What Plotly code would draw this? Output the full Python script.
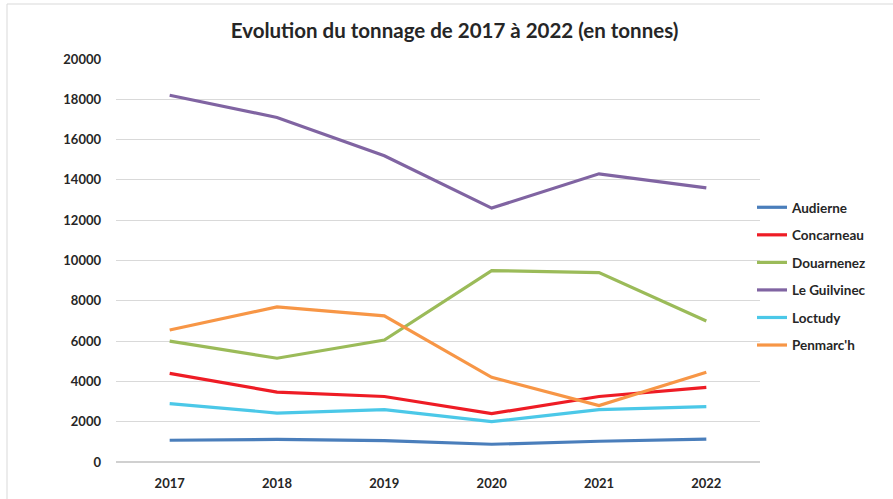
import plotly.graph_objects as go

years = ["2017", "2018", "2019", "2020", "2021", "2022"]
audierne = [1080, 1120, 1060, 880, 1030, 1140]
concarneau = [4400, 3470, 3250, 2400, 3250, 3700]
douarnenez = [6000, 5150, 6050, 9500, 9400, 7000]
le_guilvinec = [18200, 17100, 15200, 12600, 14300, 13600]
loctudy = [2900, 2430, 2600, 2000, 2600, 2750]
penmarch = [6550, 7700, 7250, 4200, 2800, 4450]
y_ticks = [0, 2000, 4000, 6000, 8000, 10000, 12000, 14000, 16000, 18000, 20000]

series = [
    ("Audierne", audierne, "#4a7ebb"),
    ("Concarneau", concarneau, "#ee1c25"),
    ("Douarnenez", douarnenez, "#9bbb59"),
    ("Le Guilvinec", le_guilvinec, "#8064a2"),
    ("Loctudy", loctudy, "#4bc8e8"),
    ("Penmarc'h", penmarch, "#f79646"),
]

FONT = "Lato"
TXT = "#262626"
fig = go.Figure()
for i, (name, vals, color) in enumerate(series):
    fig.add_trace(go.Scatter(
        x=years, y=vals, name=f"<b>{name}</b>", mode="lines",
        line=dict(color=color, width=3.2),
        legendgroup=f"g{i}",
    ))

fig.update_layout(
    width=893, height=499,
    paper_bgcolor="white", plot_bgcolor="white",
    margin=dict(l=116, r=133, t=59, b=37, autoexpand=False),
    title=dict(text="<b>Evolution du tonnage de 2017 à 2022 (en tonnes)</b>",
               x=0.509, xanchor="center", yref="container", y=1 - 31 / 499, yanchor="middle",
               font=dict(family=FONT, size=20.5, color=TXT)),
    font=dict(family=FONT, color=TXT),
    legend=dict(x=(752 - 116) / 644, xanchor="left", y=(462 - 192) / 403, yanchor="top",
                font=dict(family=FONT, size=13.5, color=TXT),
                traceorder="grouped", tracegroupgap=7,
                itemwidth=30, bgcolor="rgba(0,0,0,0)"),
    xaxis=dict(showgrid=False, showline=False, zeroline=False, automargin=False,
               range=[-0.5, 5.5],
               tickvals=years, ticktext=[f"<b>{y}</b>" for y in years],
               tickfont=dict(family=FONT, size=13, color=TXT),
               ticklabelstandoff=12),
    yaxis=dict(range=[0, 20000], showgrid=True, gridcolor="#d9d9d9", automargin=False,
               gridwidth=1, zeroline=True, zerolinecolor="#d0d0d0", zerolinewidth=1.5,
               tickvals=y_ticks, ticktext=[f"<b>{v}</b>" for v in y_ticks],
               tickfont=dict(family=FONT, size=13, color=TXT),
               ticklabelstandoff=14),
    showlegend=True,
)

# light chart border (top and left visible)
fig.add_shape(type="line", xref="paper", yref="paper",
              x0=(7 - 116) / 644, x1=(893 - 116) / 644, y0=(462 - 4) / 403, y1=(462 - 4) / 403,
              line=dict(color="#d9d9d9", width=1))
fig.add_shape(type="line", xref="paper", yref="paper",
              x0=(7 - 116) / 644, x1=(7 - 116) / 644, y0=(462 - 4) / 403, y1=(462 - 499) / 403,
              line=dict(color="#d9d9d9", width=1))

fig.write_html("out.html", config={"displayModeBar": False},
               post_script="document.body.style.margin='0';")
